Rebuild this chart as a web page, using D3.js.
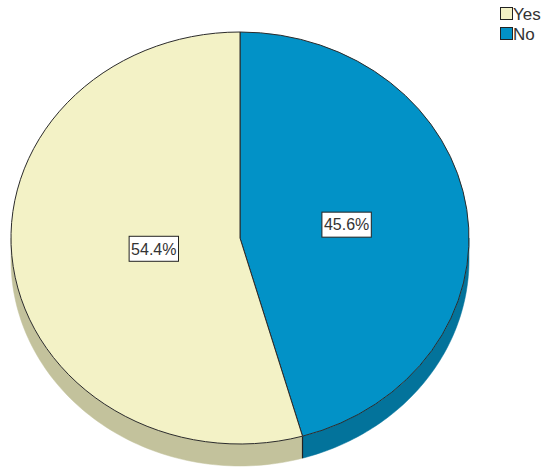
<!DOCTYPE html>
<html>
<head>
<meta charset="utf-8">
<script src="https://cdn.jsdelivr.net/npm/d3@7"></script>
<style>
  body { margin: 0; background: #fff; }
  svg { display: block; font-family: "Liberation Sans", Arial, sans-serif; }
</style>
</head>
<body>
<script>
// chart data
var categories = ["Yes", "No"];
var percents = [54.4, 45.6];
var labels = ["54.4%", "45.6%"];
var topColors = ["#f3f2c6", "#0292c7"];
var sideColors = ["#c3c29c", "#03739b"];

var width = 550, height = 473;
var cx = 240, cy = 238, rx = 229, ry = 206, depth = 22;

var svg = d3.select("body").append("svg")
    .attr("width", width)
    .attr("height", height);

// No runs clockwise from 12 o'clock, Yes takes the rest
var pie = d3.pie().sort(null).startAngle(0).endAngle(2 * Math.PI)
    .value(function(d) { return d.v; });
var data = [{k: categories[1], v: percents[1], i: 1}, {k: categories[0], v: percents[0], i: 0}];
var arcs = pie(data);

function px(t) { return cx + rx * Math.sin(t); }
function py(t) { return cy - ry * Math.cos(t); }

var line = d3.line().x(function(d) { return d[0]; }).y(function(d) { return d[1]; });

// sides (only the front half, angles between PI/2 and 3PI/2)
arcs.forEach(function(a) {
    var s = Math.max(a.startAngle, Math.PI / 2), e = Math.min(a.endAngle, 3 * Math.PI / 2);
    if (e <= s) return;
    var n = 80, pts = [];
    for (var j = 0; j <= n; j++) { var t = s + (e - s) * j / n; pts.push([px(t), py(t)]); }
    for (var j = n; j >= 0; j--) { var t = s + (e - s) * j / n; pts.push([px(t), py(t) + depth]); }
    svg.append("path")
        .attr("d", line(pts) + "Z")
        .attr("fill", sideColors[a.data.i])
        .attr("stroke", sideColors[a.data.i])
        .attr("stroke-width", 0.5);
});

// edge line where the slices meet on the side
var tb = arcs[0].endAngle;
svg.append("line")
    .attr("x1", px(tb)).attr("y1", py(tb))
    .attr("x2", px(tb)).attr("y2", py(tb) + depth)
    .attr("stroke", "#222").attr("stroke-width", 1.2);

// top faces
var arc = d3.arc().innerRadius(0).outerRadius(1);
svg.append("g")
    .attr("transform", "translate(" + cx + "," + cy + ") scale(" + rx + "," + ry + ")")
    .selectAll("path")
    .data(arcs)
    .enter()
    .append("path")
    .attr("d", arc)
    .attr("fill", function(d) { return topColors[d.data.i]; })
    .attr("stroke", "#2b2b2b")
    .attr("stroke-width", 1)
    .attr("vector-effect", "non-scaling-stroke");

// value labels
var labelR = [0.38, 0.47];
arcs.forEach(function(a) {
    var m = (a.startAngle + a.endAngle) / 2, f = labelR[a.data.i];
    var lx = cx + rx * f * Math.sin(m), ly = cy - ry * f * Math.cos(m);
    var g = svg.append("g").attr("transform", "translate(" + lx + "," + ly + ")");
    var txt = g.append("text")
        .attr("text-anchor", "middle")
        .attr("dy", "0.36em")
        .attr("font-size", 16)
        .attr("fill", "#333")
        .text(labels[a.data.i]);
    var bb = txt.node().getBBox();
    g.insert("rect", "text")
        .attr("x", bb.x - 2).attr("y", -12.5)
        .attr("width", bb.width + 4).attr("height", 25)
        .attr("fill", "#fff")
        .attr("stroke", "#222")
        .attr("stroke-width", 1);
});

// legend
var legend = svg.append("g").attr("transform", "translate(500,7)");
categories.forEach(function(c, i) {
    var row = legend.append("g").attr("transform", "translate(0," + (i * 20) + ")");
    row.append("rect")
        .attr("x", 0.5).attr("y", 0.5)
        .attr("width", 12).attr("height", 12)
        .attr("fill", topColors[i])
        .attr("stroke", "#222");
    row.append("text")
        .attr("x", 13).attr("y", 13)
        .attr("font-size", 17)
        .attr("fill", "#333")
        .text(c);
});
</script>
</body>
</html>
